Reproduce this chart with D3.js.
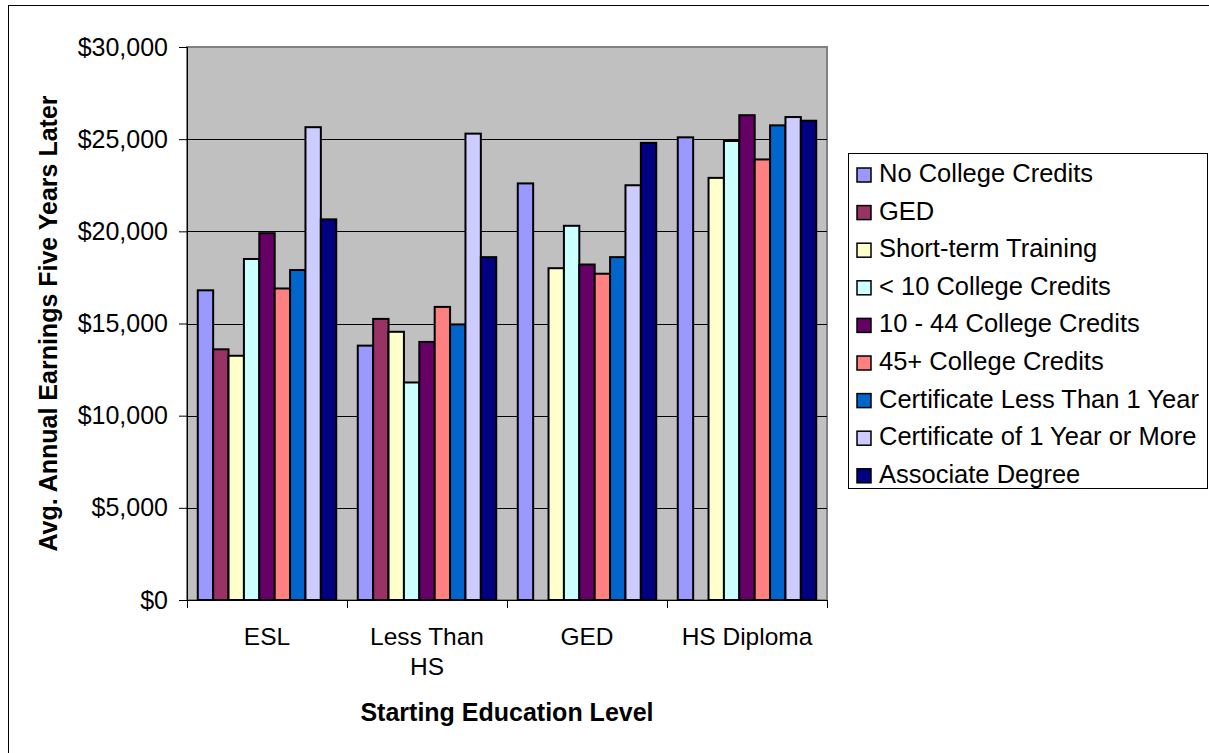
<!DOCTYPE html>
<html lang="en">
<head>
    <meta charset="UTF-8">
    <title>Avg. Annual Earnings Five Years Later</title>
    <script src="https://d3js.org/d3.v7.min.js"></script>
    <style>
        body {
            margin: 0;
            background: #fff;
            font-family: "Liberation Sans", Arial, sans-serif;
        }
        svg {
            display: block;
        }
    </style>
</head>
<body>
    <svg width="1209" height="753"></svg>

    <script>
        const width = 1209;
        const height = 753;

        const categories = ["ESL", "Less Than HS", "GED", "HS Diploma"];
        const seriesNames = [
            "No College Credits",
            "GED",
            "Short-term Training",
            "< 10 College Credits",
            "10 - 44 College Credits",
            "45+ College Credits",
            "Certificate Less Than 1 Year",
            "Certificate of 1 Year or More",
            "Associate Degree"
        ];
        const seriesColors = ["#9999FF", "#993366", "#FFFFCC", "#CCFFFF", "#660066",
                              "#FF8080", "#0066CC", "#CCCCFF", "#000080"];

        // one array per series, values for ESL, Less Than HS, GED, HS Diploma
        const noCollege   = [16800, 13800, 22600, 25100];
        const ged         = [13600, 15250, null, null];
        const shortTerm   = [13250, 14550, 18000, 22900];
        const lt10        = [18500, 11800, 20300, 24900];
        const c10to44     = [19900, 14000, 18200, 26300];
        const c45plus     = [16900, 15900, 17700, 23900];
        const certLt1     = [17900, 14950, 18600, 25750];
        const cert1plus   = [25650, 25300, 22500, 26200];
        const associate   = [20650, 18600, 24800, 26000];

        const seriesValues = [noCollege, ged, shortTerm, lt10, c10to44, c45plus, certLt1, cert1plus, associate];
        const yTicks = [0, 5000, 10000, 15000, 20000, 25000, 30000];

        const plot = { left: 187, right: 827, top: 47, bottom: 600 };

        const svg = d3.select("svg");

        // outer chart border (runs off the bottom/right of the picture)
        svg.append("rect")
            .attr("x", 8.5).attr("y", 5.5)
            .attr("width", width + 10).attr("height", height + 10)
            .attr("fill", "#fff")
            .attr("stroke", "#000")
            .attr("stroke-width", 1);

        const x0 = d3.scaleBand()
            .domain(categories)
            .range([plot.left, plot.right])
            .padding(0);

        const x1 = d3.scaleBand()
            .domain(seriesNames)
            .range([0, x0.bandwidth()])
            .paddingInner(0)
            .paddingOuter(0.7);

        const y = d3.scaleLinear()
            .domain([0, 30000])
            .range([plot.bottom, plot.top]);

        // plot background
        svg.append("rect")
            .attr("x", plot.left).attr("y", plot.top)
            .attr("width", plot.right - plot.left)
            .attr("height", plot.bottom - plot.top)
            .attr("fill", "#C0C0C0")
            .attr("stroke", "#808080")
            .attr("stroke-width", 2);

        // gridlines
        svg.append("g")
            .selectAll("line")
            .data(yTicks.filter(d => d > 0 && d < 30000))
            .join("line")
            .attr("x1", plot.left).attr("x2", plot.right)
            .attr("y1", d => Math.round(y(d)) + 0.5)
            .attr("y2", d => Math.round(y(d)) + 0.5)
            .attr("stroke", "#000")
            .attr("stroke-width", 1);

        // bars
        const groups = svg.append("g")
            .selectAll("g")
            .data(categories)
            .join("g")
            .attr("transform", d => `translate(${x0(d)},0)`);

        groups.selectAll("rect")
            .data((c, ci) => seriesNames.map((s, si) => ({ s, si, v: seriesValues[si][ci] })).filter(d => d.v != null))
            .join("rect")
            .attr("x", d => x1(d.s))
            .attr("y", d => y(d.v))
            .attr("width", x1.bandwidth())
            .attr("height", d => y(0) - y(d.v))
            .attr("fill", d => seriesColors[d.si])
            .attr("stroke", "#000")
            .attr("stroke-width", 2);

        // y axis
        const yAxis = d3.axisLeft(y)
            .tickValues(yTicks)
            .tickSize(8)
            .tickPadding(11)
            .tickFormat(d => "$" + d3.format(",")(d));

        const yAxisG = svg.append("g")
            .attr("transform", `translate(${plot.left},0)`)
            .call(yAxis);
        yAxisG.selectAll("text")
            .attr("font-size", 25)
            .attr("font-family", "'Liberation Sans', Arial, sans-serif")
            .attr("fill", "#000");
        yAxisG.selectAll("line, path").attr("stroke", "#000");
        yAxisG.select(".domain").attr("d", `M0.5,${plot.top}V${plot.bottom}`);

        // x axis
        const xAxis = d3.axisBottom(x0).tickSize(0).tickFormat("");
        const xAxisG = svg.append("g")
            .attr("transform", `translate(0,${plot.bottom})`)
            .call(xAxis);
        xAxisG.selectAll("path").attr("stroke", "#000");
        xAxisG.select(".domain").attr("d", `M${plot.left},0.5H${plot.right}`);

        // category boundary ticks
        svg.append("g")
            .selectAll("line")
            .data(categories.map(c => x0(c)).concat([plot.right]))
            .join("line")
            .attr("x1", d => d + 0.5).attr("x2", d => d + 0.5)
            .attr("y1", plot.bottom).attr("y2", plot.bottom + 8)
            .attr("stroke", "#000");

        // category labels (wrapped like the original)
        const catLines = { "ESL": ["ESL"], "Less Than HS": ["Less Than", "HS"], "GED": ["GED"], "HS Diploma": ["HS Diploma"] };
        svg.append("g")
            .selectAll("text")
            .data(categories)
            .join("text")
            .attr("x", d => x0(d) + x0.bandwidth() / 2)
            .attr("y", 645)
            .attr("text-anchor", "middle")
            .attr("font-size", 24.5)
            .each(function (d) {
                d3.select(this).selectAll("tspan")
                    .data(catLines[d])
                    .join("tspan")
                    .attr("x", x0(d) + x0.bandwidth() / 2)
                    .attr("dy", (t, i) => i === 0 ? 0 : 30)
                    .text(t => t);
            });

        // axis titles
        svg.append("text")
            .attr("x", (plot.left + plot.right) / 2)
            .attr("y", 721)
            .attr("text-anchor", "middle")
            .attr("font-size", 25)
            .attr("font-weight", "bold")
            .text("Starting Education Level");

        svg.append("text")
            .attr("transform", `translate(57,${(plot.top + plot.bottom) / 2}) rotate(-90)`)
            .attr("text-anchor", "middle")
            .attr("font-size", 25)
            .attr("font-weight", "bold")
            .text("Avg. Annual Earnings Five Years Later");

        // legend
        const legend = svg.append("g");
        legend.append("rect")
            .attr("x", 848.5).attr("y", 153.5)
            .attr("width", 359).attr("height", 335)
            .attr("fill", "#fff")
            .attr("stroke", "#000")
            .attr("stroke-width", 1);

        const legendItems = legend.selectAll("g")
            .data(seriesNames)
            .join("g")
            .attr("transform", (d, i) => `translate(857,${182 + i * 37.6})`);

        legendItems.append("rect")
            .attr("x", 0).attr("y", -14)
            .attr("width", 14).attr("height", 14)
            .attr("fill", (d, i) => seriesColors[i])
            .attr("stroke", "#000")
            .attr("stroke-width", 1.5);

        legendItems.append("text")
            .attr("x", 22)
            .attr("y", 0)
            .attr("font-size", 25.5)
            .text(d => d);
    </script>
</body>
</html>
